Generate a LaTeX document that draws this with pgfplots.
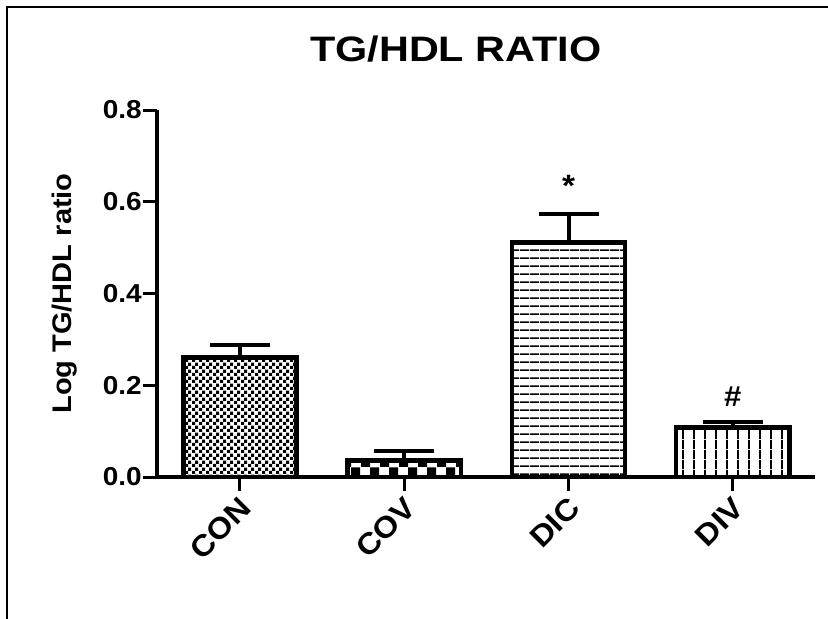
\documentclass[border=0pt]{standalone}
\usepackage{pgfplots}
\pgfplotsset{compat=1.18}
\usepackage{fontspec}
\setmainfont{Liberation Sans}[FakeStretch=1.08]
\newfontfamily\titlefont{Liberation Sans}[FakeStretch=1.17]
\usetikzlibrary{patterns}

\pgfdeclarepatternformonly{finecheck}{\pgfqpoint{0bp}{0bp}}{\pgfqpoint{6.6bp}{6.6bp}}{\pgfqpoint{6.6bp}{6.6bp}}{%
 \pgfpathrectangle{\pgfqpoint{0bp}{0bp}}{\pgfqpoint{3.3bp}{3.3bp}}%
 \pgfpathrectangle{\pgfqpoint{3.3bp}{3.3bp}}{\pgfqpoint{3.3bp}{3.3bp}}%
 \pgfusepath{fill}}
\pgfdeclarepatternformonly{coarsecheck}{\pgfqpoint{0bp}{0bp}}{\pgfqpoint{19bp}{19bp}}{\pgfqpoint{19bp}{19bp}}{%
 \pgfpathrectangle{\pgfqpoint{0bp}{0bp}}{\pgfqpoint{9.5bp}{9.5bp}}%
 \pgfpathrectangle{\pgfqpoint{9.5bp}{9.5bp}}{\pgfqpoint{9.5bp}{9.5bp}}%
 \pgfusepath{fill}}
\pgfdeclarepatternformonly{hlinesp}{\pgfqpoint{0bp}{0bp}}{\pgfqpoint{10bp}{7.6bp}}{\pgfqpoint{10bp}{7.6bp}}{%
 \pgfpathrectangle{\pgfqpoint{0bp}{0bp}}{\pgfqpoint{10bp}{1.6bp}}%
 \pgfusepath{fill}}
\pgfdeclarepatternformonly{vlinesp}{\pgfqpoint{0bp}{0bp}}{\pgfqpoint{11bp}{10bp}}{\pgfqpoint{11bp}{10bp}}{%
 \pgfpathrectangle{\pgfqpoint{0bp}{0bp}}{\pgfqpoint{2bp}{10bp}}%
 \pgfusepath{fill}}

\begin{document}
\begin{tikzpicture}
\begin{axis}[
  scale only axis, width=658bp, height=367bp,
  xmin=-0.505, xmax=3.5, ymin=0, ymax=0.8,
  axis x line*=bottom, axis y line*=left,
  axis line style={line width=3.5bp, black},
  xtick={0,1,2,3}, xticklabels={CON,COV,DIC,DIV},
  ytick={0,0.2,0.4,0.6,0.8},
  yticklabel style={inner sep=1bp, /pgf/number format/.cd, fixed, fixed zerofill, precision=1},
  /pgf/number format/assume math mode=true,
  tick style={line width=3bp, black},
  major tick length=14bp, tick align=outside,
  ticklabel style={font=\fontsize{26}{26}\selectfont\bfseries},
  xticklabel style={font=\fontsize{30}{30}\selectfont\bfseries, xshift=-1.5bp, yshift=-3bp, rotate=45, anchor=north east, inner sep=1bp},
  ylabel={Log TG/HDL ratio},
  ylabel style={font=\fontsize{27}{27}\selectfont\bfseries, at={(axis description cs:-0.141,0.5)}, anchor=center},
  title={TG/HDL RATIO},
  title style={font=\titlefont\fontsize{35.5}{35.5}\selectfont\bfseries, at={(axis description cs:0.454,1.151)}, anchor=center},
  clip=false,
  ybar, bar width=0.69, bar shift=0pt,
]
\addplot[draw=black, line width=4.5bp, pattern=finecheck, pattern color=black,
  error bars/.cd, y dir=plus, y explicit,
  error bar style={line width=4bp, black},
  error mark options={rotate=90, mark size=30bp, line width=4bp, black}]
  coordinates {(0,0.260) +- (0,0.027)};
\addplot[draw=black, line width=4.5bp, pattern=coarsecheck, pattern color=black,
  error bars/.cd, y dir=plus, y explicit,
  error bar style={line width=4bp, black},
  error mark options={rotate=90, mark size=30bp, line width=4bp, black}]
  coordinates {(1,0.036) +- (0,0.021)};
\addplot[draw=black, line width=4.5bp, pattern=hlinesp, pattern color=black,
  error bars/.cd, y dir=plus, y explicit,
  error bar style={line width=4bp, black},
  error mark options={rotate=90, mark size=30bp, line width=4bp, black}]
  coordinates {(2,0.511) +- (0,0.062)};
\addplot[draw=black, line width=4.5bp, pattern=vlinesp, pattern color=black,
  error bars/.cd, y dir=plus, y explicit,
  error bar style={line width=4bp, black},
  error mark options={rotate=90, mark size=30bp, line width=4bp, black}]
  coordinates {(3,0.108) +- (0,0.012)};
\node[font=\fontsize{31}{31}\selectfont\bfseries] at (axis cs:2,0.635) {*};
\node[font=\fontsize{29}{29}\selectfont\bfseries] at (axis cs:3,0.175) {\#};
\end{axis}
\draw[line width=2bp] (-150bp,-142bp) -- (-150bp,470bp) -- (671bp,470bp);
\pgfresetboundingbox
\useasboundingbox (-157bp,-142bp) rectangle (671bp,477bp);
\end{tikzpicture}
\end{document}
